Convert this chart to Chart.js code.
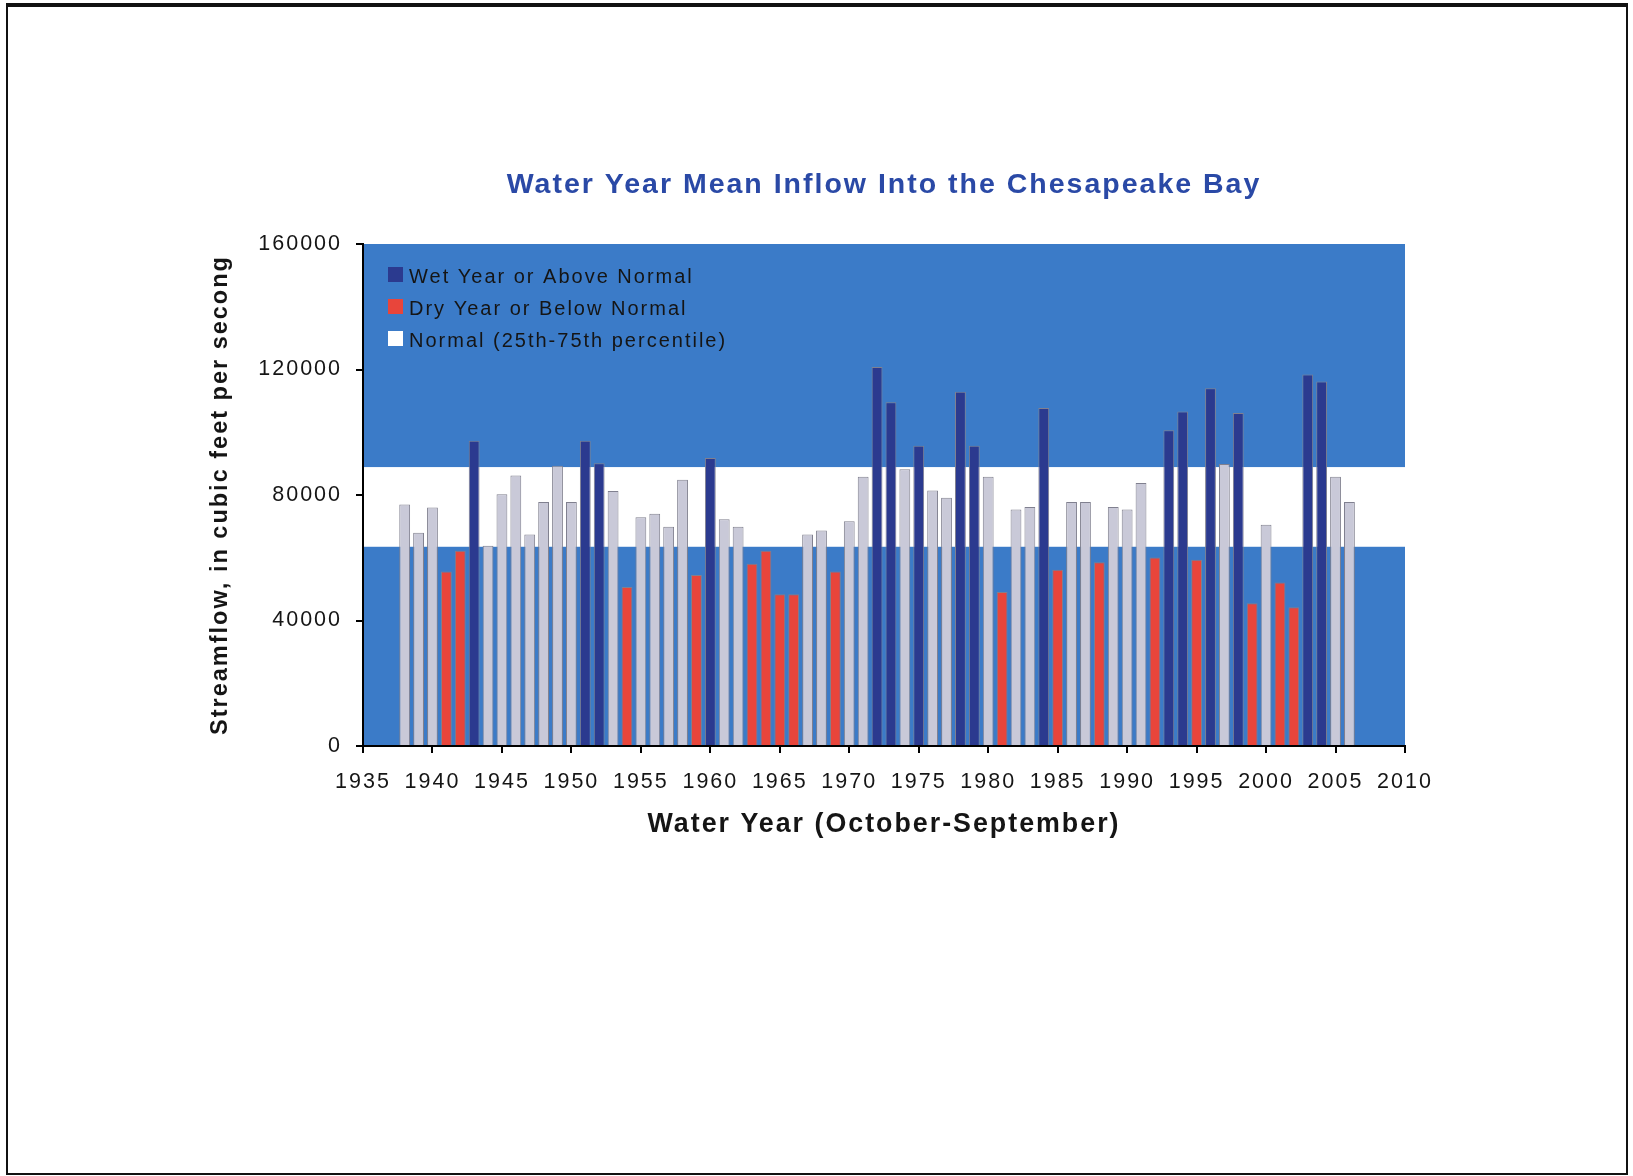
<!DOCTYPE html>
<html>
<head>
<meta charset="utf-8">
<script src="https://cdn.jsdelivr.net/npm/chart.js@4/dist/chart.umd.min.js"></script>
<style>
  html, body { margin: 0; padding: 0; background: #fff; overflow: hidden; }
  #wrap { position: relative; width: 1633px; height: 1176px; }
  #frame { position: absolute; left: 6px; top: 3px; width: 1618px; height: 1166px;
           border: 2px solid #111; border-top-width: 4px; pointer-events: none; }
  canvas { position: absolute; left: 0; top: 0; }
</style>
</head>
<body>
<div id="wrap">
  <canvas id="c" width="1633" height="1176"></canvas>
  <div id="frame"></div>
</div>
<script>
// ---- Data ----
const xTickMin = 1935, xTickMax = 2010, xTickStep = 5;
const yTickMin = 0, yTickMax = 160000, yTickStep = 40000;

// Normal band (25th-75th percentile), cfs
const normalBand = [63500, 88900];

const wetYears = [1943, 1951, 1952, 1960, 1972, 1973, 1975, 1978, 1979, 1984, 1993, 1994, 1996, 1998, 2003, 2004];
const wetFlow  = [97300, 97300, 90100, 91800, 120800, 109600, 95700, 112900, 95700, 107700, 100600, 106600, 114000, 106100, 118400, 116200];

const dryYears = [1941, 1942, 1954, 1959, 1963, 1964, 1965, 1966, 1969, 1981, 1985, 1988, 1992, 1995, 1999, 2001, 2002];
const dryFlow  = [55600, 62200, 50700, 54500, 58100, 62200, 48400, 48400, 55600, 49100, 56200, 58600, 60100, 59400, 45500, 52100, 44200];

const normalYears = [1938, 1939, 1940, 1944, 1945, 1946, 1947, 1948, 1949, 1950, 1953, 1955, 1956, 1957, 1958,
                     1961, 1962, 1967, 1968, 1970, 1971, 1974, 1976, 1977, 1980, 1982, 1983, 1986, 1987, 1989,
                     1990, 1991, 1997, 2000, 2005, 2006];
const normalFlow  = [77000, 68000, 76000, 63800, 80200, 86200, 67400, 77800, 89300, 77800, 81300, 72900, 74000, 69900, 84900,
                     72300, 69900, 67400, 68700, 71600, 85800, 88200, 81400, 79100, 85800, 75400, 76200, 77800, 77800, 76200,
                     75400, 83800, 89900, 70500, 85800, 77800];

const seriesLabels = ['Wet Year or Above Normal', 'Dry Year or Below Normal', 'Normal (25th-75th percentile)'];

// ---- Styles ----
const FONT = '"Liberation Sans", Arial, Helvetica, sans-serif';
const COLORS = {
  wet: '#2B3A8F', dry: '#E8453B', normal: '#C9C9D8',
  plotBg: '#3B7BC8', band: '#FFFFFF', title: '#2A49A6', text: '#151515'
};
const legendColors = [COLORS.wet, COLORS.dry, '#FFFFFF'];

function pts(xs, ys) { return xs.map((x, i) => ({ x: x, y: ys[i] })); }

const spacingPlugin = {
  id: 'spacing',
  beforeInit(chart) { chart.ctx.letterSpacing = '2px'; },
  beforeLayout(chart) { chart.ctx.letterSpacing = '2px'; },
  beforeDraw(chart) { chart.ctx.letterSpacing = '2px'; }
};

const backgroundPlugin = {
  id: 'plotBackground',
  beforeDraw(chart) {
    const { ctx, chartArea: a, scales: { y } } = chart;
    ctx.save();
    ctx.fillStyle = COLORS.plotBg;
    ctx.fillRect(a.left, a.top, a.right - a.left, a.bottom - a.top);
    const yTop = y.getPixelForValue(normalBand[1]);
    const yBot = y.getPixelForValue(normalBand[0]);
    ctx.fillStyle = COLORS.band;
    ctx.fillRect(a.left, yTop, a.right - a.left, yBot - yTop);
    ctx.restore();
  }
};

const insideLegendPlugin = {
  id: 'insideLegend',
  afterDatasetsDraw(chart) {
    const ctx = chart.ctx;
    const a = chart.chartArea;
    ctx.save();
    ctx.letterSpacing = '2px';
    ctx.font = '20px ' + FONT;
    ctx.textBaseline = 'middle';
    ctx.textAlign = 'left';
    chart.data.datasets.forEach((ds, i) => {
      const top = a.top + 23 + i * 32;
      ctx.fillStyle = legendColors[i];
      ctx.fillRect(a.left + 25, top, 15, 15);
      ctx.fillStyle = COLORS.text;
      ctx.fillText(ds.label, a.left + 46, top + 10);
    });
    ctx.restore();
  }
};

const barStyle = { borderColor: '#80808F', borderWidth: 1, barPercentage: 0.82, categoryPercentage: 0.95 };

new Chart(document.getElementById('c'), {
  type: 'bar',
  data: {
    datasets: [
      Object.assign({ label: seriesLabels[0], data: pts(wetYears, wetFlow), backgroundColor: COLORS.wet }, barStyle),
      Object.assign({ label: seriesLabels[1], data: pts(dryYears, dryFlow), backgroundColor: COLORS.dry }, barStyle),
      Object.assign({ label: seriesLabels[2], data: pts(normalYears, normalFlow), backgroundColor: COLORS.normal }, barStyle)
    ]
  },
  options: {
    responsive: false,
    animation: false,
    devicePixelRatio: 1,
    grouped: false,
    layout: { padding: { left: 206, right: 228, top: 0, bottom: 335 } },
    plugins: {
      legend: { display: false },
      tooltip: { enabled: false },
      title: {
        display: true,
        fullSize: false,
        text: 'Water Year Mean Inflow Into the Chesapeake Bay',
        color: COLORS.title,
        font: { family: FONT, size: 28.5, weight: 'bold', lineHeight: 1.2 },
        padding: { top: 168, bottom: 41.8 }
      }
    },
    scales: {
      x: {
        type: 'linear',
        min: xTickMin, max: xTickMax,
        offset: false,
        afterFit(scale) { scale.height = 95; },
        ticks: {
          stepSize: xTickStep,
          autoSkip: false,
          maxRotation: 0,
          color: COLORS.text,
          font: { family: FONT, size: 21.5 },
          padding: 16,
          callback: v => String(v)
        },
        grid: { display: true, offset: false, drawOnChartArea: false, drawTicks: true, tickLength: 7, color: '#000', lineWidth: 2 },
        border: { display: true, color: '#000', width: 2 },
        title: {
          display: true,
          text: 'Water Year (October-September)',
          color: COLORS.text,
          font: { family: FONT, size: 26.8, weight: 'bold', lineHeight: 1.2 },
          padding: { top: 0, bottom: 0 }
        }
      },
      y: {
        min: yTickMin, max: yTickMax,
        afterFit(scale) { scale.width = 157; },
        ticks: {
          stepSize: yTickStep,
          color: COLORS.text,
          font: { family: FONT, size: 21.5 },
          padding: 14,
          callback: v => String(v)
        },
        grid: { display: true, offset: false, drawOnChartArea: false, drawTicks: true, tickLength: 7, color: '#000', lineWidth: 2 },
        border: { display: true, color: '#000', width: 2 },
        title: {
          display: true,
          text: 'Streamflow, in cubic feet per secong',
          color: COLORS.text,
          font: { family: FONT, size: 23.5, weight: 'bold', lineHeight: 1.2 },
          padding: { top: 0, bottom: 0 }
        }
      }
    }
  },
  plugins: [spacingPlugin, backgroundPlugin, insideLegendPlugin]
});
</script>
</body>
</html>
